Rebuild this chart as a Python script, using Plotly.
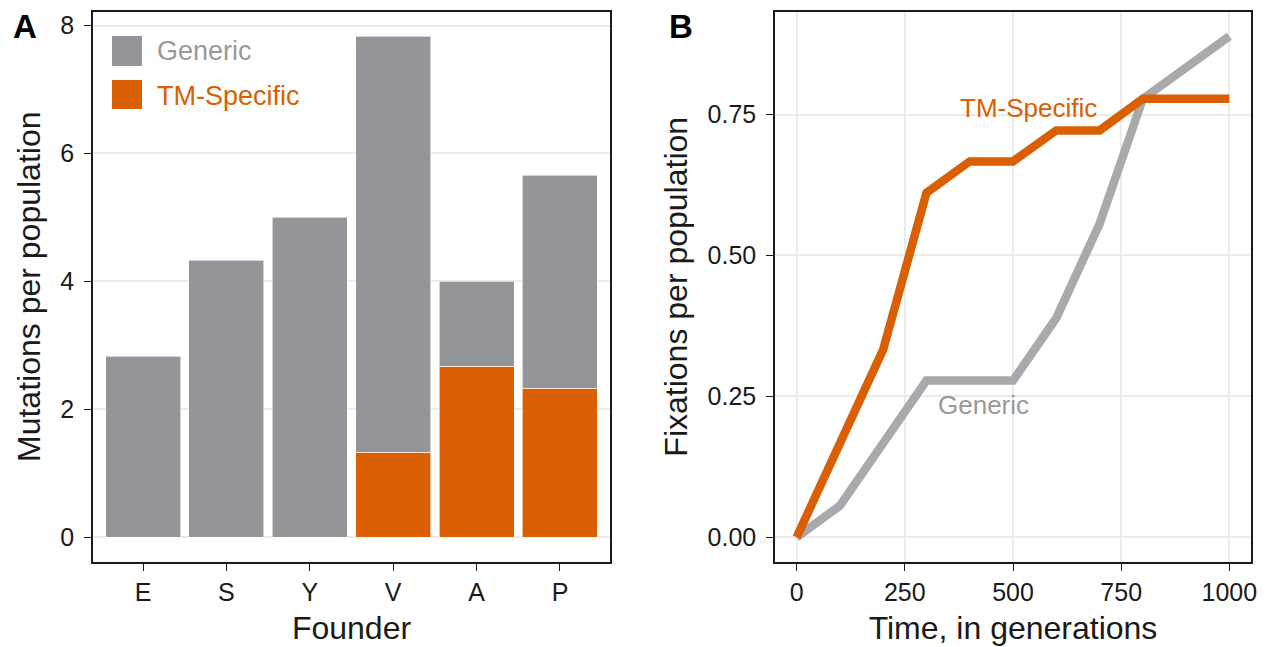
import plotly.graph_objects as go

# Panel A data
founders = ["E", "S", "Y", "V", "A", "P"]
generic_counts = [2.83, 4.33, 5.0, 6.5, 1.33, 3.33]
tm_counts = [0.0, 0.0, 0.0, 1.33, 2.67, 2.33]

# Panel B data
generations = [0, 100, 200, 300, 400, 500, 600, 700, 800, 900, 1000]
tm_fix = [0.0, 0.167, 0.333, 0.611, 0.667, 0.667, 0.722, 0.722, 0.778, 0.778, 0.778]
generic_fix = [0.0, 0.056, 0.167, 0.278, 0.278, 0.278, 0.389, 0.556, 0.778, 0.833, 0.889]

GRAY_BAR = "#939598"
ORANGE = "#D95F02"
GRAY_LINE = "#A7A9AC"
GRAY_TEXT = "#999999"
FONT = "Liberation Sans, Arial, sans-serif"
W, H = 1265, 647
OFF = 8  # page body margin offset


def px(x):
    return (x - OFF) / W


def py(y):
    return 1 - (y - OFF) / H


fig = go.Figure()

fig.add_trace(go.Bar(x=founders, y=tm_counts, marker=dict(color=ORANGE, line=dict(color="white", width=0.6)),
                     width=0.9, name="TM-Specific", xaxis="x", yaxis="y", showlegend=False))
fig.add_trace(go.Bar(x=founders, y=generic_counts, marker=dict(color=GRAY_BAR, line=dict(color="white", width=0.6)),
                     width=0.9, name="Generic", xaxis="x", yaxis="y", showlegend=False))

fig.add_trace(go.Scatter(x=generations, y=generic_fix, mode="lines",
                         line=dict(color=GRAY_LINE, width=8.5), xaxis="x2", yaxis="y2", showlegend=False))
fig.add_trace(go.Scatter(x=generations, y=tm_fix, mode="lines",
                         line=dict(color=ORANGE, width=8.5), xaxis="x2", yaxis="y2", showlegend=False))

axis_common = dict(showline=True, linecolor="#1a1a1a", linewidth=1.5, mirror=True,
                   ticks="outside", ticklen=7, tickcolor="#1a1a1a", tickwidth=1.3,
                   tickfont=dict(family=FONT, size=25, color="#1a1a1a"),
                   zeroline=False, gridcolor="#EBEBEB", gridwidth=1.5, automargin=False)
title_font = dict(family=FONT, size=32, color="#1a1a1a")

ydom = [py(562), py(11.5)]

fig.update_layout(
    width=W, height=H,
    margin=dict(l=0, r=0, t=0, b=0),
    paper_bgcolor="white", plot_bgcolor="white",
    barmode="stack",
    font=dict(family=FONT),
    xaxis=dict(domain=[px(93), px(610)], range=[-0.6, 5.6], showgrid=False,
               title=dict(text="Founder", font=title_font, standoff=12),
               ticklabelstandoff=0, anchor="y", **axis_common),
    yaxis=dict(domain=ydom, range=[-0.39, 8.22], tickvals=[0, 2, 4, 6, 8], showgrid=True,
               title=dict(text="Mutations per population", font=title_font, standoff=10),
               ticklabelstandoff=5, anchor="x", **axis_common),
    xaxis2=dict(domain=[px(775), px(1251)], range=[-50, 1050], tickvals=[0, 250, 500, 750, 1000], showgrid=True,
                title=dict(text="Time, in generations", font=title_font, standoff=12),
                ticklabelstandoff=0, anchor="y2", **axis_common),
    yaxis2=dict(domain=ydom, range=[-0.044, 0.933], tickvals=[0, 0.25, 0.5, 0.75],
                ticktext=["0.00", "0.25", "0.50", "0.75"], showgrid=True,
                title=dict(text="Fixations per population", font=title_font, standoff=10),
                ticklabelstandoff=5, anchor="x2", **axis_common),
)

# panel letters
fig.add_annotation(text="<b>A</b>", x=px(25), y=py(26), xref="paper", yref="paper", showarrow=False,
                   xanchor="center", yanchor="middle", height=30, valign="middle",
                   font=dict(family=FONT, size=33, color="black"))
fig.add_annotation(text="<b>B</b>", x=px(681), y=py(26), xref="paper", yref="paper", showarrow=False,
                   xanchor="center", yanchor="middle", height=30, valign="middle",
                   font=dict(family=FONT, size=33, color="black"))

# legend for panel A (drawn)
fig.add_shape(type="rect", xref="paper", yref="paper", x0=px(112), x1=px(142),
              y0=py(66), y1=py(36), fillcolor=GRAY_BAR, line=dict(width=0))
fig.add_shape(type="rect", xref="paper", yref="paper", x0=px(112), x1=px(142),
              y0=py(109), y1=py(80), fillcolor=ORANGE, line=dict(width=0))
fig.add_annotation(text="Generic", x=px(155), y=py(51), xref="paper", yref="paper", showarrow=False,
                   xanchor="left", yanchor="middle", font=dict(family=FONT, size=27, color=GRAY_TEXT))
fig.add_annotation(text="TM-Specific", x=px(155), y=py(96), xref="paper", yref="paper", showarrow=False,
                   xanchor="left", yanchor="middle", font=dict(family=FONT, size=27, color=ORANGE))

# direct labels for panel B
fig.add_annotation(text="TM-Specific", x=536, y=0.761, xref="x2", yref="y2", showarrow=False,
                   font=dict(family=FONT, size=26, color=ORANGE))
fig.add_annotation(text="Generic", x=431, y=0.235, xref="x2", yref="y2", showarrow=False,
                   font=dict(family=FONT, size=26, color=GRAY_TEXT))

fig.write_html("out.html")
